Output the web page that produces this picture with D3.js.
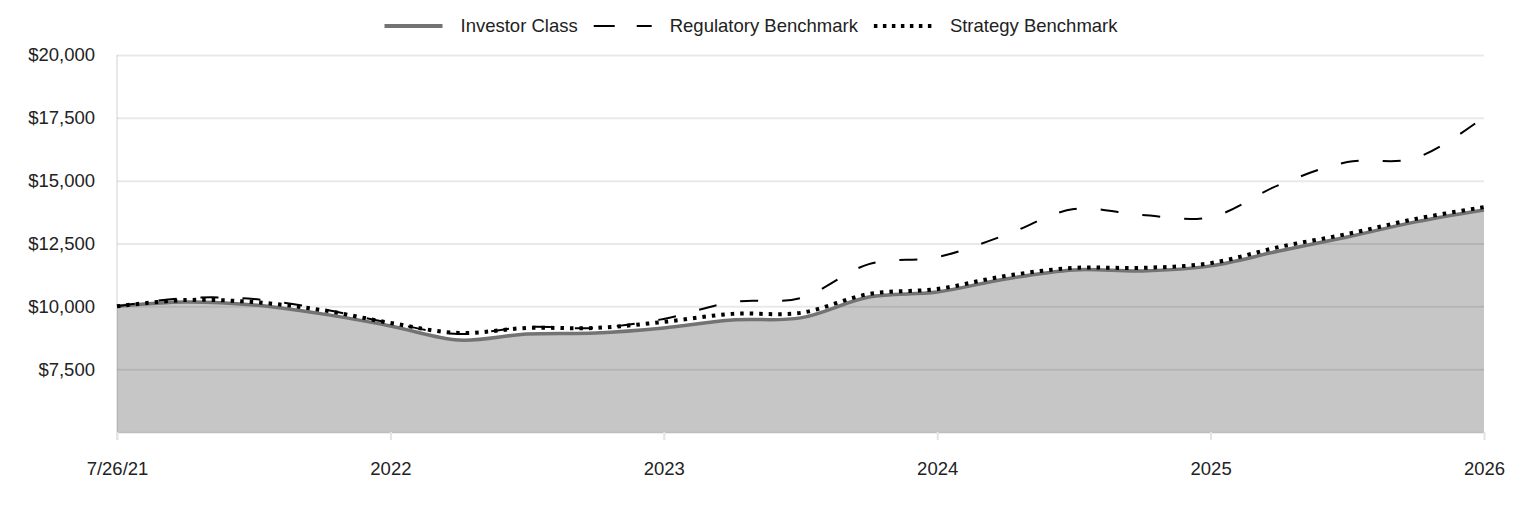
<!DOCTYPE html>
<html>
<head>
<meta charset="utf-8">
<script src="https://cdn.jsdelivr.net/npm/d3@7.9.0/dist/d3.min.js"></script>
<style>
  html, body { margin: 0; padding: 0; background: #fff; }
  svg { display: block; font-family: "Liberation Sans", Arial, sans-serif; }
</style>
</head>
<body>
<svg id="chart" width="1524" height="516"></svg>
<script>
// quarters since 7/26/21, labels placed every 4 quarters
const xLabels = ["7/26/21", "2022", "2023", "2024", "2025", "2026"];
const quarters = d3.range(0, 21);

const investorClass = [10000, 10170, 10050, 9700, 9220, 8660, 8900, 8940, 9140, 9460, 9540,
  10370, 10570, 11090, 11450, 11410, 11610, 12200, 12760, 13360, 13830];
const regulatoryBenchmark = [10000, 10330, 10290, 9890, 9340, 8900, 9180, 9140, 9500, 10170, 10330,
  11680, 11960, 12840, 13870, 13630, 13550, 14830, 15740, 15900, 17530];
const strategyBenchmark = [10000, 10250, 10170, 9850, 9340, 8940, 9140, 9140, 9380, 9700, 9740,
  10490, 10690, 11210, 11530, 11530, 11720, 12360, 12880, 13480, 13950];

const yTicks = [7500, 10000, 12500, 15000, 17500, 20000];

const series = [
  { name: "Investor Class", values: investorClass, stroke: "#737373", width: 3.5, dash: null },
  { name: "Regulatory Benchmark", values: regulatoryBenchmark, stroke: "#000", width: 2, dash: "18,24" },
  { name: "Strategy Benchmark", values: strategyBenchmark, stroke: "#000", width: 4, dash: "3.5,6" }
];

const svg = d3.select("#chart");
const margin = { top: 55, right: 40, bottom: 84, left: 117 };
const width = +svg.attr("width") - margin.left - margin.right;
const height = +svg.attr("height") - margin.top - margin.bottom;
const fontSize = "18.5px";

const g = svg.append("g")
  .attr("transform", `translate(${margin.left},${margin.top})`);

const x = d3.scaleLinear()
  .domain([0, 20])
  .range([0, width]);

const y = d3.scaleLinear()
  .domain([5000, 20000])
  .range([height, 0]);

const curve = d3.curveCatmullRom.alpha(0.5);

// shaded area under the fund line
g.append("path")
  .datum(quarters)
  .attr("fill", "#c6c6c6")
  .attr("d", d3.area()
    .x(i => x(i))
    .y0(height)
    .y1(i => y(investorClass[i]))
    .curve(curve));

// y axis + gridlines
const yAxis = g.append("g")
  .call(d3.axisLeft(y)
    .tickValues(yTicks)
    .tickFormat(d3.format("$,"))
    .tickSize(-width)
    .tickPadding(22));
yAxis.select(".domain").remove();
yAxis.selectAll(".tick line")
  .attr("stroke", "rgba(0,0,0,0.085)")
  .attr("stroke-width", 2);
yAxis.selectAll(".tick text")
  .attr("fill", "#222")
  .attr("font-size", fontSize);

// left edge line
g.append("line")
  .attr("x1", 0).attr("x2", 0)
  .attr("y1", 0).attr("y2", height + 8)
  .attr("stroke", "rgba(0,0,0,0.085)")
  .attr("stroke-width", 2);

// x axis
const xAxis = g.append("g")
  .attr("transform", `translate(0,${height})`)
  .call(d3.axisBottom(x)
    .tickValues([0, 4, 8, 12, 16, 20])
    .tickFormat((d, i) => xLabels[i])
    .tickSizeInner(8)
    .tickSizeOuter(0)
    .tickPadding(22));
xAxis.select(".domain")
  .attr("stroke", "#bdbdbd")
  .attr("stroke-width", 1.5);
xAxis.selectAll(".tick line")
  .attr("stroke", "#e3e3e3")
  .attr("stroke-width", 2);
xAxis.selectAll(".tick text")
  .attr("fill", "#222")
  .attr("font-size", fontSize);

// lines
series.forEach(s => {
  g.append("path")
    .datum(quarters)
    .attr("fill", "none")
    .attr("stroke", s.stroke)
    .attr("stroke-width", s.width)
    .attr("stroke-dasharray", s.dash)
    .attr("d", d3.line()
      .x(i => x(i))
      .y(i => y(s.values[i]))
      .curve(curve));
});

// legend
const legend = svg.append("g");
let cx = 0;
series.forEach((s, k) => {
  const item = legend.append("g");
  item.append("line")
    .attr("x1", 0).attr("x2", 58)
    .attr("y1", 0).attr("y2", 0)
    .attr("stroke", s.stroke)
    .attr("stroke-width", k === 0 ? 4 : s.width)
    .attr("stroke-dasharray", k === 1 ? "21,22" : (k === 2 ? "3.5,5.5" : null));
  const t = item.append("text")
    .attr("x", 76)
    .attr("dy", "0.35em")
    .attr("fill", "#222")
    .attr("font-size", fontSize)
    .text(s.name);
  const w = 76 + t.node().getComputedTextLength();
  item.attr("transform", `translate(${cx},0)`);
  cx += w + 16;
});
const total = cx - 16;
legend.attr("transform", `translate(${751 - total / 2},26)`);
</script>
</body>
</html>
